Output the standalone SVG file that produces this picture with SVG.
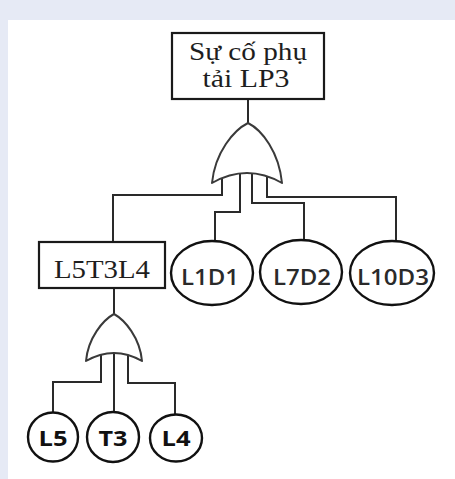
<svg xmlns="http://www.w3.org/2000/svg" width="455" height="479" viewBox="0 0 455 479">
  <style>
    .frame { fill: #e6eaf5; }
    .box { fill: #ffffff; stroke: #1a1a1a; stroke-width: 2.2; }
    .gate { fill: #ffffff; stroke: #3a3a3a; stroke-width: 2; stroke-linejoin: round; }
    .event { fill: #ffffff; stroke: #111111; stroke-width: 2.4; }
    .wire { fill: none; stroke: #2a2a2a; stroke-width: 2; }
    .serif { font-family: "Liberation Serif", "Times New Roman", serif; font-size: 25px; fill: #1e1e1e; text-anchor: middle; }
    .sans { font-family: "Open Sans", "Noto Sans", "DejaVu Sans", sans-serif; font-size: 22px; font-weight: 600; fill: #2a2a2a; text-anchor: middle; }
    .sansb { font-family: "Open Sans", "Noto Sans", "DejaVu Sans", sans-serif; font-size: 22px; font-weight: 700; fill: #111111; text-anchor: middle; }
  </style>

  <!-- page background with light border bands -->
  <rect x="0" y="0" width="455" height="479" fill="#ffffff"/>
  <rect class="frame" x="0" y="0" width="455" height="20"/>
  <rect class="frame" x="0" y="0" width="8" height="479"/>

  <!-- connectors -->
  <g id="connectors" class="wire">
    <path d="M248 99 V124"/>
    <path d="M222 170 V195 H113 V242"/>
    <path d="M240 170 V212 H215 V241"/>
    <path d="M252 170 V203 H304 V240"/>
    <path d="M267 170 V197 H396 V241"/>
    <path d="M114 288 V315"/>
    <path d="M101 350 V382 H53 V413"/>
    <path d="M114 350 V412"/>
    <path d="M128 350 V383 H175 V415"/>
  </g>

  <!-- top event -->
  <g id="top-event">
    <rect class="box" x="172" y="33" width="152" height="66"/>
    <text class="serif" x="248" y="60" textLength="118" lengthAdjust="spacingAndGlyphs">Sự cố phụ</text>
    <text class="serif" x="246" y="87" textLength="87" lengthAdjust="spacingAndGlyphs">tải LP3</text>
  </g>

  <!-- OR gate under top event -->
  <g id="or-gate-1">
    <path class="gate" d="M248 123 C234 130 215 152 212 183 Q247 163 282 183 C279 152 262 130 248 123 Z"/>
  </g>

  <!-- intermediate event -->
  <g id="L5T3L4">
    <rect class="box" x="39" y="242" width="126" height="46" stroke-width="2.8"/>
    <text class="serif" x="102" y="278" textLength="96" lengthAdjust="spacingAndGlyphs">L5T3L4</text>
  </g>

  <!-- basic events, first level -->
  <g id="L1D1">
    <ellipse class="event" cx="212" cy="273" rx="41" ry="32"/>
    <text class="sans" x="210" y="285" textLength="58" lengthAdjust="spacingAndGlyphs">L1D1</text>
  </g>
  <g id="L7D2">
    <ellipse class="event" cx="301" cy="272" rx="41" ry="32"/>
    <text class="sans" x="302" y="285" textLength="58" lengthAdjust="spacingAndGlyphs">L7D2</text>
  </g>
  <g id="L10D3">
    <ellipse class="event" cx="392" cy="273" rx="42" ry="32"/>
    <text class="sans" x="393" y="285" textLength="72" lengthAdjust="spacingAndGlyphs">L10D3</text>
  </g>

  <!-- OR gate under L5T3L4 -->
  <g id="or-gate-2">
    <path class="gate" d="M114 314 C103 320 88 338 86 361 Q114 345 142 361 C140 338 125 320 114 314 Z"/>
  </g>

  <!-- basic events, second level -->
  <g id="L5">
    <ellipse class="event" cx="53" cy="437" rx="25" ry="24.5"/>
    <text class="sansb" x="53" y="446" textLength="29" lengthAdjust="spacingAndGlyphs">L5</text>
  </g>
  <g id="T3">
    <ellipse class="event" cx="113" cy="437" rx="26" ry="25"/>
    <text class="sansb" x="113" y="446" textLength="29" lengthAdjust="spacingAndGlyphs">T3</text>
  </g>
  <g id="L4">
    <ellipse class="event" cx="176" cy="438" rx="26" ry="23.5"/>
    <text class="sansb" x="176" y="446" textLength="29" lengthAdjust="spacingAndGlyphs">L4</text>
  </g>
</svg>
